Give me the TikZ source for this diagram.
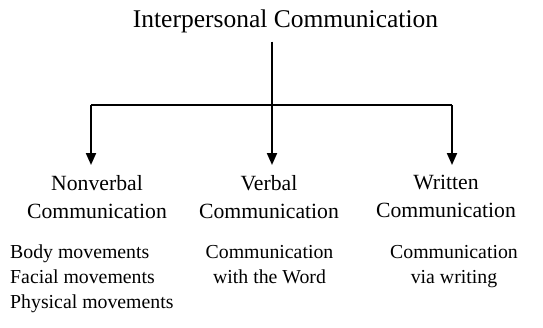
\documentclass[tikz,border=0pt]{standalone}
\usepackage{fontspec}
\setmainfont{Liberation Serif}
\usetikzlibrary{arrows.meta}
\begin{document}
\begin{tikzpicture}[x=1pt,y=-1pt,
  titletext/.style={font=\fontsize{25.5}{30}\selectfont, inner sep=0pt, anchor=base},
  headtext/.style={font=\fontsize{21.7}{28}\selectfont, align=center, inner sep=0pt, anchor=north},
  bodytext/.style={font=\fontsize{19.8}{25}\selectfont, inner sep=0pt, anchor=north},
  conn/.style={line width=2pt},
  arr/.style={conn, -{Triangle[width=10pt,length=12pt]}}]
\useasboundingbox (0,0) rectangle (543,327);
\node[titletext] (t) at (285.5,27) {Interpersonal Communication};
\coordinate (j) at (272,105);
\coordinate (l) at (91,105);
\coordinate (r) at (452,105);
\node[headtext] (nv) at (97,175) {Nonverbal\\Communication};
\node[headtext] (vb) at (269,175) {Verbal\\Communication};
\node[headtext] (wr) at (446,175) {Written\\Communication};
\node[bodytext, align=left, anchor=north west] (nvb) at (10,245) {Body movements\\Facial movements\\Physical movements};
\node[bodytext, align=center] (vbb) at (269.5,245) {Communication\\with the Word};
\node[bodytext, align=center] (wrb) at (454,245) {Communication\\via writing};
\draw[conn, shorten <=9pt] (j |- t.south) -- (j);
\draw[conn] (l) -- (r);
\draw[arr, shorten >=10pt] (l) -- (l |- nv.north);
\draw[arr, shorten >=10pt] (j) -- (j |- vb.north);
\draw[arr, shorten >=10pt] (r) -- (r |- wr.north);
\end{tikzpicture}
\end{document}
